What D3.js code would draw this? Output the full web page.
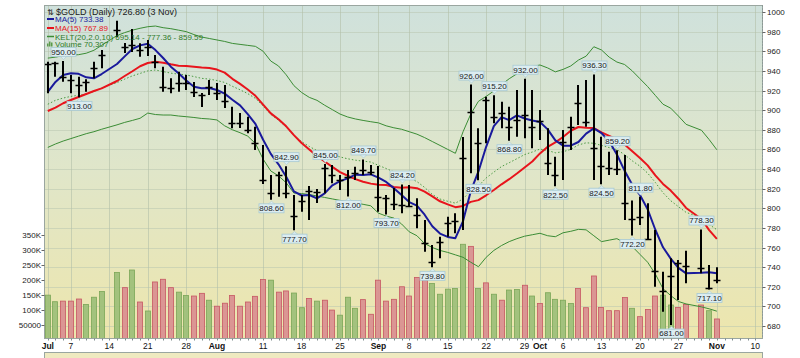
<!DOCTYPE html>
<html><head><meta charset="utf-8">
<script src="https://cdn.jsdelivr.net/npm/d3@7"></script>
<style>html,body{margin:0;padding:0;background:#fff;} svg{display:block;font-family:"Liberation Sans",Arial,sans-serif;}</style>
</head><body><svg id="c" width="800" height="358"></svg>
<script>
// ---- DATA (trading-day index 0 = 1 Jul 2008; null = no bar) ----
const highs = [949.3,949.3,950.0,935.8,934.1,931.4,949.3,961.3,null,991.1,968.4,982.7,968.1,971.5,956.2,944.3,932.4,939.2,935.8,928.7,917.5,930.7,927.6,925.6,903.5,897.1,893.3,883.1,864.5,833.9,837.3,842.9,813.5,813.5,822.7,819.6,845.0,844.1,833.9,839.0,842.3,849.7,844.1,843.1,813.5,820.6,824.2,823.7,810.1,788.0,762.5,771.0,791.4,794.8,872.7,926.0,881.5,913.7,915.2,908.6,903.5,920.5,932.0,920.5,900.1,881.5,852.5,879.7,893.3,925.6,930.7,936.3,872.9,857.6,859.2,854.3,808.0,811.8,805.0,777.8,735.3,749.0,747.3,756.8,null,778.3,742.2,739.8];
const lows = [917.1,934.1,929.0,917.1,913.0,918.8,932.4,942.6,null,974.2,958.2,959.2,954.4,955.2,942.6,918.8,917.1,918.8,920.5,913.4,903.2,915.4,910.3,902.2,881.5,881.8,876.4,859.4,824.7,808.6,811.8,810.1,777.7,796.5,788.0,805.3,815.2,825.4,818.6,812.0,828.8,833.9,833.9,796.5,793.7,798.2,794.8,801.6,779.6,755.7,739.8,749.0,771.0,774.5,777.8,835.6,828.5,866.2,886.6,881.5,868.8,872.9,871.3,861.1,869.6,833.9,822.5,828.8,859.4,884.8,883.1,828.8,824.5,833.9,833.9,788.0,772.2,782.9,767.6,720.1,694.6,681.0,706.5,723.5,null,733.7,717.1,723.5];
const closes = [947.0,947.7,934.1,930.7,925.6,929.0,942.6,956.2,null,981.7,964.6,966.4,961.3,964.6,949.3,923.9,922.5,927.3,928.0,918.0,915.4,923.9,917.1,909.6,887.2,886.6,879.7,866.5,828.8,815.3,833.9,815.8,792.1,807.7,817.9,816.9,840.7,833.9,828.8,832.2,835.6,839.0,837.3,811.8,810.1,804.3,803.3,802.0,793.1,764.3,745.5,765.9,785.0,787.0,850.9,898.4,866.2,910.3,892.7,896.8,883.1,889.9,895.0,882.5,888.9,845.8,833.9,867.8,882.5,907.6,888.2,861.1,843.1,841.3,840.5,805.7,788.7,791.4,768.7,736.1,716.0,731.3,743.9,741.1,null,738.8,718.4,726.8];
const volumes = [150000,128000,130000,130000,137000,119000,143000,162000,null,226000,175000,234000,127000,97000,194000,203000,175000,160000,149000,147000,156000,133000,113000,123000,149000,113000,127000,146000,202000,200000,160000,164000,157000,108000,139000,130000,133000,100000,83000,143000,106000,135000,86000,200000,130000,136000,178000,147000,209000,200000,189000,153000,170000,172000,320000,313000,172000,191000,153000,133000,167000,169000,183000,147000,122000,158000,136000,133000,122000,172000,108000,214000,109000,98000,98000,142000,106000,78000,102000,147000,150000,117000,109000,119000,null,117000,98000,70307];
const volUp = "ggrrrggg-grgrgrrrggrrgrrrrrrrgrrggrgrrgggrrrrrrrrrgggggrgrgrggrgrggggrrrrrrrgrrrggr-grg";
const ma5 = [918.5,928.7,935.8,937.5,937.0,933.4,932.4,936.8,null,947.0,954.8,962.3,966.0,967.7,961.2,953.1,944.3,937.5,930.2,923.9,922.2,922.5,920.5,916.8,910.6,904.9,896.0,885.9,869.8,855.4,844.8,832.1,817.2,813.0,813.5,810.1,815.1,823.4,827.6,830.5,834.2,833.9,834.6,831.2,826.8,820.5,813.4,806.3,802.6,793.4,781.6,774.2,770.8,769.5,786.9,817.4,837.5,862.6,883.7,892.9,889.8,894.6,891.5,889.5,887.9,880.4,869.2,863.8,863.8,867.5,876.0,881.4,876.5,868.3,854.8,838.3,823.9,813.5,799.0,778.1,760.2,748.7,739.2,733.7,null,734.2,734.7,733.8];
const ma15 = [899.1,902.5,907.0,910.3,913.4,916.4,919.5,922.2,null,929.7,934.8,939.6,944.7,948.0,949.3,948.3,946.7,945.3,944.9,944.1,943.4,943.0,941.3,938.2,931.9,926.7,921.0,914.6,905.6,896.7,890.7,883.5,874.5,866.5,859.8,853.3,847.7,842.2,836.8,833.1,829.7,827.0,825.1,823.9,823.6,821.6,820.8,821.4,820.5,816.9,812.1,807.1,803.9,801.1,802.3,806.5,808.3,813.2,818.6,824.4,829.6,835.4,841.6,847.6,855.9,862.6,867.1,872.6,879.0,882.8,882.1,881.7,877.3,873.8,870.1,864.9,858.2,851.3,843.7,833.5,824.8,818.0,809.7,800.3,null,789.1,777.7,768.8];
const keltMid = [906.0,910.0,912.3,914.0,915.1,916.5,919.0,922.5,null,928.1,931.6,934.9,937.4,940.0,940.9,939.3,937.7,936.7,935.9,934.2,932.4,931.6,930.2,928.2,924.3,920.7,916.8,912.0,904.1,895.6,889.7,882.7,874.1,867.8,863.0,858.7,857.0,854.8,852.3,850.4,849.0,848.0,847.1,843.7,840.5,837.0,833.9,830.8,827.2,821.2,814.0,809.4,807.1,805.2,809.5,818.0,822.6,830.9,836.8,842.5,846.4,850.5,854.7,857.3,860.3,858.9,856.5,857.6,860.0,864.5,866.7,866.2,864.0,861.8,859.8,854.6,848.3,842.9,835.8,826.3,815.8,807.7,801.6,795.8,null,790.4,783.5,778.1];
const keltUp = [953,954,955.5,956,956.5,958,961,966,null,976,979,981.5,983.4,985,985.7,984,983,981.5,980,977,974.5,973,971.5,970,968,967,966,965,960,950,945,936,925,918,913,910,905,900.5,896,893,891,889.5,888.2,887,884,882,880.5,878,875.5,872,868,864,860,856,878,896,909,914,919.5,926,932,937,942,944.5,946,943,939,941.5,945,951,955,964.6,961.3,954,949,946.5,940,932,924,915,906,902,894,885.5,null,879.5,870,859.6];
const keltLow = [862,865.5,868.5,871,873.5,876,878,880.5,null,885,887.5,889.5,891.7,897,895.5,895,895,894,893.3,892.5,891.5,891,890,884,880,877,873.5,866,850,838,833,826,815.5,815,814,812.5,811,809.5,808,806.5,805.5,804,802.5,795,792,790,784,776,772,764,760,757,755,752.5,750,745,740.4,750,757,762,766,769,771.5,773,774.5,772,771,775,776.5,778.5,778,772,766,767.5,769,765,761,753,745,733,718,711,705,702.5,null,699.5,697.5,695.1];
const labelIdx  = [2,4,29,31,32,36,39,41,44,46,50,55,56,58,60,62,66,71,72,74,76,77,81,85,86];
const labelType = ["H","L","L","H","L","H","L","H","L","H","L","H","L","H","L","H","L","H","L","H","L","H","L","H","L"];
const tickIdx    = [0,3,8,13,18,22,28,33,38,43,47,52,57,62,64,67,72,77,82,87,92];
const tickLabels = ["Jul","7","14","21","28","Aug","11","18","25","Sep","8","15","22","29","Oct","6","13","20","27","Nov","10"];
const priceTicks = [680,700,720,740,760,780,800,820,840,860,880,900,920,940,960,980,1000];
const volTicks   = [50000,100000,150000,200000,250000,300000,350000];
const volTickLabels = ["50000","100K","150K","200K","250K","300K","350K"];
const legendTitle = "$GOLD (Daily) 726.80 (3 Nov)";
const legendMA5 = "MA(5) 733.38";
const legendMA15 = "MA(15) 767.89";
const legendKelt = "KELT(20,2.0,10) 695.14 - 777.36 - 859.59";
const legendVol = "Volume 70,307";

// ---- LAYOUT ----
const L=44.5,R=762.5,T=5.5,B=338.5;
const svg=d3.select("#c");
const x=d3.scaleLinear().domain([0,92]).range([47.8,755.3]);
const y=d3.scaleLinear().domain([680,1000]).range([326,12]);
const yv=d3.scaleLinear().domain([0,350000]).range([340,235.3]);
const n=closes.length, idx=d3.range(n);

const defs=svg.append("defs");
const g1=defs.append("linearGradient").attr("id","bg").attr("x1",0).attr("y1",0).attr("x2",0).attr("y2",1);
g1.append("stop").attr("offset","0%").attr("stop-color","#cfe1dc");
g1.append("stop").attr("offset","50%").attr("stop-color","#e0e6c9");
g1.append("stop").attr("offset","100%").attr("stop-color","#ede6ad");
defs.append("clipPath").attr("id","clip").append("rect").attr("x",L).attr("y",T).attr("width",R-L).attr("height",B-T);

svg.append("rect").attr("x",L).attr("y",T).attr("width",R-L).attr("height",B-T).attr("fill","url(#bg)");

const plot=svg.append("g").attr("clip-path","url(#clip)");
// grid
plot.selectAll(".hg").data(priceTicks).join("line")
  .attr("x1",L).attr("x2",R).attr("y1",d=>Math.round(y(d))+0.5).attr("y2",d=>Math.round(y(d))+0.5)
  .attr("stroke","#b9c6b0").attr("stroke-opacity",0.55).attr("stroke-width",1);
plot.selectAll(".vg").data(tickIdx).join("line")
  .attr("x1",d=>Math.round(x(d))+0.5).attr("x2",d=>Math.round(x(d))+0.5).attr("y1",T).attr("y2",B)
  .attr("stroke","#b3c0a8").attr("stroke-opacity",0.6).attr("stroke-width",1);

// volume
const vi=idx.filter(i=>volumes[i]!=null);
plot.selectAll(".vb").data(vi).join("rect")
  .attr("x",i=>Math.round(x(i))-2.5).attr("width",5)
  .attr("y",i=>yv(volumes[i])).attr("height",i=>yv(0)-yv(volumes[i]))
  .attr("fill",i=>volUp[i]==="g"?"#9cbf78":"#d98f90")
  .attr("fill-opacity",0.92)
  .attr("stroke",i=>volUp[i]==="g"?"#7ba657":"#c65763").attr("stroke-width",0.8);

// lines
function drawLine(arr,color,w,dash){
  const pts=idx.filter(i=>arr[i]!=null);
  plot.append("path").datum(pts)
    .attr("d",d3.line().x(i=>x(i)).y(i=>y(arr[i])).curve(d3.curveLinear))
    .attr("fill","none").attr("stroke",color).attr("stroke-width",w)
    .attr("stroke-dasharray",dash||null).attr("stroke-linejoin","round");
}
drawLine(keltUp,"#3b8c35",1);
drawLine(keltLow,"#3b8c35",1);
drawLine(keltMid,"#4d9a45",1,"1.5,2");
drawLine(ma15,"#e8141c",2);
drawLine(ma5,"#1a1a9c",2);

// price bars
const pi=idx.filter(i=>highs[i]!=null);
const bars=plot.append("g").attr("stroke","#000");
bars.selectAll(".hl").data(pi).join("line")
  .attr("x1",i=>Math.round(x(i))).attr("x2",i=>Math.round(x(i)))
  .attr("y1",i=>y(highs[i])).attr("y2",i=>y(lows[i])).attr("stroke-width",2);
bars.selectAll(".cl").data(pi).join("line")
  .attr("x1",i=>Math.round(x(i))-3.5).attr("x2",i=>Math.round(x(i))+3.5)
  .attr("y1",i=>Math.round(y(closes[i]))+0.5).attr("y2",i=>Math.round(y(closes[i]))+0.5).attr("stroke-width",1.6);

// callout labels
const lab=plot.append("g");
labelIdx.forEach((i,k)=>{
  const hi=labelType[k]==="H";
  const v=hi?highs[i]:lows[i];
  const cx=Math.round(x(i))+0.5, py=y(v);
  const bw=25,bh=9;
  const by=hi?py-4.5-bh:py+4;
  const g=lab.append("g");
  g.append("rect").attr("x",cx-bw/2).attr("y",by).attr("width",bw).attr("height",bh)
    .attr("fill","#dcedf1").attr("stroke","#a7c9d3").attr("stroke-width",0.8);
  const tip=hi?[[cx-3,by+bh],[cx+3,by+bh],[cx,py-1.5]]:[[cx-3,by],[cx+3,by],[cx,py+1.5]];
  g.append("path").attr("d",d3.line()(tip)+"Z").attr("fill","#dcedf1").attr("stroke","#a7c9d3").attr("stroke-width",0.6);
  g.append("text").attr("x",cx).attr("y",by+bh-1.6).attr("text-anchor","middle")
    .attr("font-size",8).attr("fill","#1a1a1a").text(v.toFixed(2));
});

// border
svg.append("rect").attr("x",L).attr("y",T).attr("width",R-L).attr("height",B-T)
  .attr("fill","none").attr("stroke","#9aa6a0").attr("stroke-width",1);

// right axis
const ax=svg.append("g");
ax.append("line").attr("x1",R).attr("x2",R).attr("y1",T).attr("y2",B).attr("stroke","#7f8c8c").attr("stroke-dasharray","1,2");
ax.selectAll(".pt").data(priceTicks).join("line")
  .attr("x1",R).attr("x2",R+3).attr("y1",d=>Math.round(y(d))+0.5).attr("y2",d=>Math.round(y(d))+0.5).attr("stroke","#666");
ax.selectAll(".pl").data(priceTicks).join("text")
  .attr("x",R+4.5).attr("y",d=>y(d)+3).attr("font-size",8).attr("fill","#222").text(d=>d);
// left volume axis
ax.selectAll(".vt").data(volTicks).join("line")
  .attr("x1",L-3).attr("x2",L).attr("y1",d=>Math.round(yv(d))+0.5).attr("y2",d=>Math.round(yv(d))+0.5).attr("stroke","#666");
ax.selectAll(".vl").data(volTicks).join("text")
  .attr("x",L-3.5).attr("y",d=>yv(d)+3).attr("text-anchor","end").attr("font-size",8).attr("fill","#222")
  .text((d,k)=>volTickLabels[k]);
// bottom axis
ax.selectAll(".dt").data(d3.range(0,93)).join("line")
  .attr("x1",d=>Math.round(x(d))+0.5).attr("x2",d=>Math.round(x(d))+0.5).attr("y1",B).attr("y2",B+2).attr("stroke","#7f8c8c");
ax.selectAll(".xl").data(tickIdx).join("text")
  .attr("x",d=>x(d)).attr("y",349).attr("text-anchor","middle").attr("font-size",8.5)
  .attr("font-weight",(d,k)=>isNaN(+tickLabels[k])?"bold":"normal").attr("fill","#111")
  .text((d,k)=>tickLabels[k]);

// bottom next-panel strip
svg.append("rect").attr("x",L).attr("y",352.5).attr("width",R-L).attr("height",10).attr("fill","#efeac0").attr("stroke","#9aa6a0");

// legend
const lg=svg.append("g").attr("font-size",8);
lg.append("text").attr("x",47).attr("y",14.5).attr("font-family","DejaVu Sans").attr("font-size",8).attr("fill","#222").text("⇅");
lg.append("text").attr("x",56).attr("y",14.5).attr("font-size",9).attr("fill","#1a1a1a").text(legendTitle);
lg.append("line").attr("x1",47).attr("x2",54).attr("y1",19).attr("y2",19).attr("stroke","#1a1a9c").attr("stroke-width",2);
lg.append("text").attr("x",55).attr("y",22).attr("fill","#1a1a9c").text(legendMA5);
lg.append("line").attr("x1",47).attr("x2",54).attr("y1",28).attr("y2",28).attr("stroke","#e8141c").attr("stroke-width",2);
lg.append("text").attr("x",55).attr("y",31).attr("fill","#e8141c").text(legendMA15);
lg.append("line").attr("x1",47).attr("x2",54).attr("y1",36.5).attr("y2",36.5).attr("stroke","#3b8c35").attr("stroke-width",1.5);
lg.append("text").attr("x",55).attr("y",39.5).attr("fill","#2f7a2a").text(legendKelt);
[[47,3],[49,5],[51,4]].forEach(([bx,h])=>lg.append("rect").attr("x",bx).attr("y",46.5-h).attr("width",1.5).attr("height",h).attr("fill","#5a9a4a"));
lg.append("text").attr("x",55).attr("y",47.3).attr("fill","#2f7a2a").text(legendVol);
</script></body></html>
